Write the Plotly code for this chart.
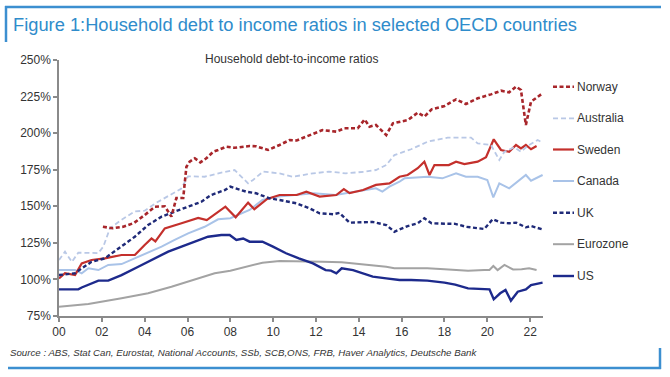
import plotly.graph_objects as go

# ---------------- data ----------------
norway_x = [2002.05, 2002.5, 2003.0, 2003.5, 2004.0, 2004.48, 2004.94, 2005.25, 2005.48, 2005.8,
            2005.95, 2006.1, 2006.34, 2006.6, 2006.88, 2007.2, 2007.43, 2007.8, 2008.2, 2008.9,
            2009.2, 2009.76, 2010.3, 2010.77, 2011.1, 2011.55, 2012.3, 2012.95, 2013.33, 2013.95,
            2014.27, 2014.5, 2014.8, 2015.28, 2015.59, 2016.3, 2016.75, 2017.06, 2017.4, 2018.0,
            2018.54, 2019.0, 2019.55, 2020.17, 2020.64, 2021.02, 2021.34, 2021.57, 2021.8, 2022.04,
            2022.27, 2022.58]
norway_y = [136.0, 135.0, 136.0, 138.6, 144.0, 149.7, 150.0, 142.9, 155.7, 155.7,
            177.0, 180.5, 182.8, 180.0, 182.8, 187.3, 188.5, 190.7, 190.0, 191.2,
            191.0, 188.5, 191.9, 195.3, 195.0, 197.6, 202.1, 201.0, 203.3, 203.3,
            209.4, 204.4, 205.6, 198.7, 206.7, 209.0, 214.0, 211.3, 216.3, 218.5,
            223.1, 219.9, 223.8, 226.5, 229.0, 227.9, 231.8, 229.5, 205.6, 221.5,
            224.0, 227.2]

australia_x = [2000.0, 2000.28, 2000.6, 2000.9, 2001.83, 2002.07, 2002.38, 2002.9, 2003.54, 2004.0,
               2004.5, 2005.1, 2005.7, 2006.03, 2006.8, 2007.58, 2008.2, 2008.83, 2009.06, 2009.53,
               2010.3, 2010.9, 2011.86, 2012.6, 2013.4, 2014.3, 2014.8, 2015.28, 2015.66, 2016.44,
               2017.22, 2018.15, 2019.24, 2019.55, 2020.17, 2020.56, 2020.8, 2021.26, 2021.57, 2021.88,
               2022.35, 2022.58]
australia_y = [113.3, 119.0, 112.0, 118.3, 118.0, 122.4, 135.0, 140.6, 146.5, 147.0,
               152.0, 157.0, 162.0, 170.5, 170.2, 173.0, 174.8, 165.7, 168.0, 173.7,
               172.5, 170.2, 172.5, 173.7, 172.5, 173.7, 174.8, 178.2, 185.0, 189.0,
               194.2, 196.9, 196.9, 193.0, 191.9, 181.6, 187.3, 190.3, 187.3, 191.2,
               195.3, 193.5]

sweden_x = [2000.0, 2000.28, 2000.75, 2001.06, 2001.52, 2002.14, 2002.92, 2003.54, 2004.0, 2004.32,
            2004.5, 2004.94, 2005.72, 2006.5, 2006.9, 2007.77, 2008.25, 2008.83, 2009.12, 2009.72,
            2010.3, 2011.1, 2011.55, 2012.17, 2012.95, 2013.3, 2013.57, 2014.2, 2014.8, 2015.43,
            2015.9, 2016.28, 2016.75, 2017.06, 2017.3, 2017.53, 2018.2, 2018.54, 2018.93, 2019.55,
            2019.94, 2020.3, 2020.64, 2021.02, 2021.34, 2021.57, 2021.8, 2022.04, 2022.3]
sweden_y = [100.7, 104.2, 103.0, 111.0, 113.3, 114.4, 116.7, 116.7, 123.5, 128.0,
            126.0, 134.9, 138.4, 142.0, 140.5, 149.7, 142.5, 152.5, 148.0, 155.0,
            157.7, 157.7, 160.0, 156.6, 157.7, 161.8, 159.0, 161.1, 164.6, 165.7,
            170.2, 171.4, 176.0, 180.5, 171.4, 178.2, 178.2, 180.5, 178.9, 180.5,
            183.5, 195.8, 188.5, 187.3, 191.9, 189.6, 191.9, 189.0, 191.2]

canada_x = [2000.0, 2000.75, 2001.06, 2001.37, 2001.84, 2002.3, 2002.92, 2003.54, 2004.16, 2004.79,
            2005.4, 2006.03, 2006.8, 2007.43, 2008.0, 2008.9, 2009.5, 2010.15, 2011.0, 2011.9,
            2012.9, 2013.88, 2014.8, 2015.1, 2015.43, 2015.9, 2016.13, 2017.22, 2017.9, 2018.54,
            2019.0, 2019.55, 2020.0, 2020.28, 2020.56, 2021.02, 2021.42, 2021.8, 2022.04, 2022.58]
canada_y = [106.4, 106.4, 104.2, 107.6, 106.4, 109.9, 110.5, 114.4, 117.9, 122.4,
            127.0, 131.5, 136.0, 141.1, 141.8, 147.5, 154.3, 156.6, 157.7, 158.9,
            157.7, 160.0, 162.3, 160.0, 163.4, 166.8, 169.1, 170.2, 169.1, 172.5,
            170.2, 170.2, 168.0, 156.1, 165.7, 162.3, 166.8, 171.4, 167.5, 171.4]

uk_x = [2000.0, 2000.75, 2001.06, 2001.52, 2002.14, 2002.92, 2003.54, 2004.16, 2004.79, 2005.4,
        2006.03, 2006.65, 2007.1, 2007.74, 2008.0, 2008.74, 2009.2, 2009.84, 2010.3, 2011.1,
        2011.7, 2012.17, 2012.8, 2013.1, 2013.57, 2014.2, 2014.65, 2015.28, 2015.66, 2016.28,
        2016.75, 2017.06, 2017.4, 2018.0, 2018.5, 2019.0, 2019.55, 2019.86, 2020.25, 2020.64,
        2021.02, 2021.34, 2021.8, 2022.04, 2022.58]
uk_y = [103.0, 104.2, 107.6, 112.0, 114.4, 122.4, 129.2, 137.2, 142.9, 146.3,
        149.7, 153.1, 157.7, 161.1, 163.4, 160.0, 158.9, 155.4, 154.3, 152.0,
        148.6, 145.2, 144.6, 145.5, 138.8, 138.8, 139.3, 137.2, 132.6, 136.5,
        138.4, 141.8, 138.4, 138.1, 138.0, 136.0, 134.9, 134.5, 141.1, 138.8,
        138.4, 138.8, 135.6, 136.5, 134.2]

eurozone_x = [2000.0, 2001.37, 2002.92, 2004.16, 2005.25, 2006.34, 2007.27, 2008.0, 2008.74, 2009.5,
              2010.3, 2011.1, 2012.3, 2013.2, 2014.2, 2015.28, 2015.66, 2017.2, 2018.0, 2019.1,
              2019.86, 2020.1, 2020.28, 2020.48, 2020.8, 2021.2, 2021.6, 2021.95, 2022.3]
eurozone_y = [81.4, 83.2, 87.1, 90.5, 95.0, 100.0, 104.2, 106.0, 108.7, 111.4,
              112.6, 112.6, 112.1, 111.8, 110.5, 108.7, 107.6, 107.6, 107.0, 106.0,
              106.4, 106.5, 109.2, 106.4, 109.9, 106.8, 107.0, 107.6, 106.4]

us_x = [2000.0, 2000.9, 2001.06, 2001.5, 2001.84, 2002.3, 2002.92, 2003.7, 2004.48, 2005.1,
        2005.72, 2006.34, 2006.96, 2007.58, 2007.97, 2008.28, 2008.6, 2008.9, 2009.5, 2009.99,
        2010.6, 2011.2, 2011.86, 2012.45, 2012.7, 2012.95, 2013.2, 2013.73, 2014.2, 2014.65,
        2015.28, 2015.9, 2016.44, 2017.2, 2018.0, 2018.5, 2019.1, 2019.7, 2020.1, 2020.3,
        2020.6, 2020.85, 2021.1, 2021.42, 2021.8, 2022.04, 2022.58]
us_y = [93.2, 93.2, 94.5, 97.0, 99.2, 99.2, 103.0, 108.7, 114.4, 119.0,
        122.4, 125.8, 129.2, 130.4, 130.4, 127.0, 128.0, 125.8, 125.8, 122.4,
        117.9, 114.4, 111.0, 106.4, 106.0, 104.2, 107.6, 106.4, 104.2, 101.9,
        100.7, 99.6, 99.6, 99.2, 97.8, 96.5, 93.9, 93.5, 93.2, 86.4,
        90.5, 92.8, 85.5, 91.6, 93.2, 96.2, 97.8]

series_names = ["Norway", "Australia", "Sweden", "Canada", "UK", "Eurozone", "US"]
tick_years = [2000, 2002, 2004, 2006, 2008, 2010, 2012, 2014, 2016, 2018, 2020, 2022]
tick_text = ["00", "02", "04", "06", "08", "10", "12", "14", "16", "18", "20", "22"]
y_ticks = [75, 100, 125, 150, 175, 200, 225, 250]
y_tick_text = ["75%", "100%", "125%", "150%", "175%", "200%", "225%", "250%"]

# ---------------- styles ----------------
styles = {
    "Norway":    dict(color="#a8262b", width=2.6, dash="4px,2.5px"),
    "Australia": dict(color="#b9c8e6", width=1.8, dash="5px,3px"),
    "Sweden":    dict(color="#c4302c", width=2.2, dash="solid"),
    "Canada":    dict(color="#a9c3e8", width=2.0, dash="solid"),
    "UK":        dict(color="#1f2a78", width=2.4, dash="4px,2.5px"),
    "Eurozone":  dict(color="#a3a3a3", width=2.0, dash="solid"),
    "US":        dict(color="#1d2a8c", width=2.4, dash="solid"),
}
data = {
    "Norway": (norway_x, norway_y),
    "Australia": (australia_x, australia_y),
    "Sweden": (sweden_x, sweden_y),
    "Canada": (canada_x, canada_y),
    "UK": (uk_x, uk_y),
    "Eurozone": (eurozone_x, eurozone_y),
    "US": (us_x, us_y),
}
draw_order = ["Eurozone", "US", "Canada", "Sweden", "UK", "Australia", "Norway"]

W, H = 670, 377
L, R, T, B = 59, 543, 60, 316   # plot area in pixels

def px(x):
    return (x - L) / (R - L)

def py(y):
    return (B - y) / (B - T)

fig = go.Figure()
for name in draw_order:
    xs, ys = data[name]
    fig.add_trace(go.Scatter(x=xs, y=ys, mode="lines", name=name,
                             line=styles[name], showlegend=False))

font_main = "Liberation Sans, Arial, sans-serif"
txt = "#333333"

# manual legend
legend_y = [86.7, 118.3, 149.5, 181.0, 212.7, 244.2, 276.0]
shapes = []
annotations = []
for name, ly in zip(series_names, legend_y):
    st = styles[name]
    shapes.append(dict(type="line", xref="paper", yref="paper",
                       x0=px(553), x1=px(574), y0=py(ly), y1=py(ly),
                       line=dict(color=st["color"], width=st["width"], dash=st["dash"])))
    annotations.append(dict(text=name, xref="paper", yref="paper", x=px(575), y=py(ly),
                            xanchor="left", yanchor="middle", showarrow=False,
                            font=dict(family=font_main, size=12, color=txt)))

# frame
blue = "#3c8fd0"
shapes += [
    dict(type="line", xref="paper", yref="paper", x0=px(5), x1=px(661), y0=py(7), y1=py(7),
         line=dict(color=blue, width=2.5)),
    dict(type="line", xref="paper", yref="paper", x0=px(6), x1=px(6), y0=py(6), y1=py(42),
         line=dict(color=blue, width=2.5)),
    dict(type="line", xref="paper", yref="paper", x0=px(8), x1=px(661), y0=py(368), y1=py(368),
         line=dict(color=blue, width=2.5)),
    dict(type="line", xref="paper", yref="paper", x0=px(660), x1=px(660), y0=py(348), y1=py(369),
         line=dict(color=blue, width=2.5)),
]

annotations += [
    dict(text="Figure 1:Household debt to income ratios in selected OECD countries",
         xref="paper", yref="paper", x=px(11), y=py(24), xanchor="left", yanchor="middle",
         showarrow=False, font=dict(family=font_main, size=18.3, color="#2f8ccb")),
    dict(text="Household debt-to-income ratios", xref="paper", yref="paper",
         x=px(291), y=py(59), xanchor="center", yanchor="middle", showarrow=False,
         font=dict(family=font_main, size=12, color=txt)),
    dict(text="<i>Source : ABS, Stat Can, Eurostat, National Accounts, SSb, SCB,ONS, FRB, Haver Analytics, Deutsche Bank</i>",
         xref="paper", yref="paper", x=px(8), y=py(352), xanchor="left", yanchor="middle",
         showarrow=False, font=dict(family=font_main, size=9.7, color=txt)),
]

axis_col = "#8a8a8a"
fig.update_layout(
    width=W, height=H,
    margin=dict(l=L, r=W - R, t=T, b=H - B, pad=0),
    paper_bgcolor="white", plot_bgcolor="white",
    showlegend=False,
    shapes=shapes, annotations=annotations,
    xaxis=dict(range=[2000, 2022.6], tickvals=tick_years, ticktext=tick_text,
               showgrid=False, zeroline=False, showline=True, linecolor=axis_col, linewidth=1.5,
               ticks="outside", ticklen=4, tickcolor=axis_col, tickwidth=1.5,
               tickfont=dict(family=font_main, size=12, color=txt)),
    yaxis=dict(range=[75, 250], tickvals=y_ticks, ticktext=y_tick_text,
               showgrid=False, zeroline=False, showline=True, linecolor=axis_col, linewidth=1.5,
               ticks="outside", ticklen=4, tickcolor=axis_col, tickwidth=1.5,
               tickfont=dict(family=font_main, size=12, color=txt)),
)

# remove the default 8px page margin so the figure sits at the window origin
fig.write_html("out.html", config={"displayModeBar": False},
               post_script="document.body.style.margin='0';")
